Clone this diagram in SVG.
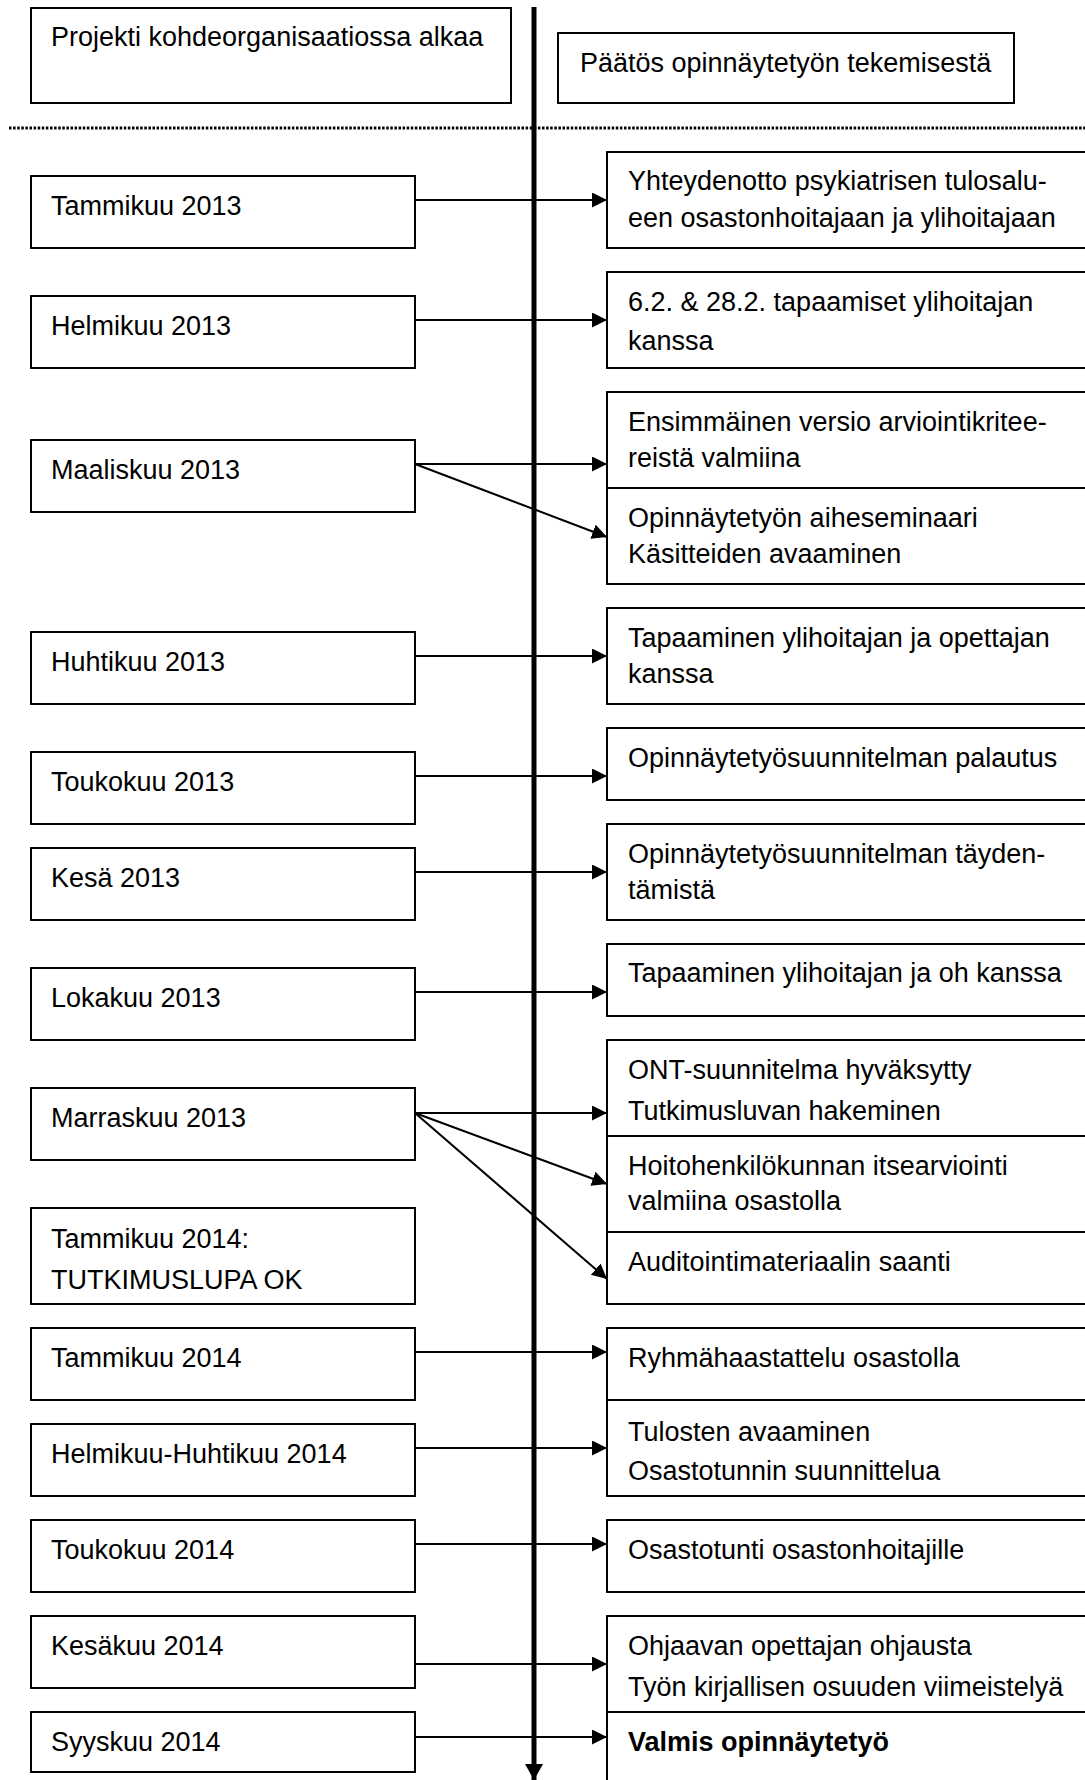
<svg xmlns="http://www.w3.org/2000/svg" width="1085" height="1780" viewBox="0 0 1085 1780">
<style>
.box{fill:#fff;stroke:#000;stroke-width:2}
.t{font-family:"Liberation Sans",Arial,sans-serif;font-size:27px;fill:#000}
.b{font-weight:bold}
.c{stroke:#000;stroke-width:2;fill:none}
</style>
<defs>
<marker id="ah" markerUnits="userSpaceOnUse" markerWidth="17" markerHeight="17" refX="15" refY="7.5" orient="auto">
<path d="M0,0 L15,7.5 L0,15 z" fill="#000"/>
</marker>
<marker id="ahBig" markerUnits="userSpaceOnUse" markerWidth="20" markerHeight="20" refX="16" refY="9" orient="auto">
<path d="M0,0 L16,9 L0,18 z" fill="#000"/>
</marker>
</defs>
<rect width="1085" height="1780" fill="#fff"/>

<!-- header nodes -->
<g id="n-projekti"><rect class="box" x="31" y="8" width="480" height="95"/><text class="t" x="51" y="46">Projekti kohdeorganisaatiossa alkaa</text></g>
<g id="n-paatos"><rect class="box" x="558" y="33" width="456" height="70"/><text class="t" x="580" y="72">Päätös opinnäytetyön tekemisestä</text></g>

<!-- left nodes -->
<g id="l1"><rect class="box" x="31" y="176" width="384" height="72"/><text class="t" x="51" y="215">Tammikuu 2013</text></g>
<g id="l2"><rect class="box" x="31" y="296" width="384" height="72"/><text class="t" x="51" y="335">Helmikuu 2013</text></g>
<g id="l3"><rect class="box" x="31" y="440" width="384" height="72"/><text class="t" x="51" y="479">Maaliskuu 2013</text></g>
<g id="l4"><rect class="box" x="31" y="632" width="384" height="72"/><text class="t" x="51" y="671">Huhtikuu 2013</text></g>
<g id="l5"><rect class="box" x="31" y="752" width="384" height="72"/><text class="t" x="51" y="791">Toukokuu 2013</text></g>
<g id="l6"><rect class="box" x="31" y="848" width="384" height="72"/><text class="t" x="51" y="887">Kesä 2013</text></g>
<g id="l7"><rect class="box" x="31" y="968" width="384" height="72"/><text class="t" x="51" y="1007">Lokakuu 2013</text></g>
<g id="l8"><rect class="box" x="31" y="1088" width="384" height="72"/><text class="t" x="51" y="1127">Marraskuu 2013</text></g>
<g id="l9"><rect class="box" x="31" y="1208" width="384" height="96"/><text class="t" x="51" y="1248">Tammikuu 2014:</text><text class="t" x="51" y="1289">TUTKIMUSLUPA OK</text></g>
<g id="l10"><rect class="box" x="31" y="1328" width="384" height="72"/><text class="t" x="51" y="1367">Tammikuu 2014</text></g>
<g id="l11"><rect class="box" x="31" y="1424" width="384" height="72"/><text class="t" x="51" y="1463">Helmikuu-Huhtikuu 2014</text></g>
<g id="l12"><rect class="box" x="31" y="1520" width="384" height="72"/><text class="t" x="51" y="1559">Toukokuu 2014</text></g>
<g id="l13"><rect class="box" x="31" y="1616" width="384" height="72"/><text class="t" x="51" y="1655">Kesäkuu 2014</text></g>
<g id="l14"><rect class="box" x="31" y="1712" width="384" height="60"/><text class="t" x="51" y="1751">Syyskuu 2014</text></g>

<!-- right nodes -->
<g id="r1"><rect class="box" x="607" y="152" width="490" height="96"/><text class="t" x="628" y="190">Yhteydenotto psykiatrisen tulosalu-</text><text class="t" x="628" y="227">een osastonhoitajaan ja ylihoitajaan</text></g>
<g id="r2"><rect class="box" x="607" y="272" width="490" height="96"/><text class="t" x="628" y="311">6.2. &amp; 28.2. tapaamiset ylihoitajan</text><text class="t" x="628" y="350">kanssa</text></g>
<g id="r3"><rect class="box" x="607" y="392" width="490" height="96"/><text class="t" x="628" y="431">Ensimmäinen versio arviointikritee-</text><text class="t" x="628" y="467">reistä valmiina</text></g>
<g id="r4"><rect class="box" x="607" y="488" width="490" height="96"/><text class="t" x="628" y="527">Opinnäytetyön aiheseminaari</text><text class="t" x="628" y="563">Käsitteiden avaaminen</text></g>
<g id="r5"><rect class="box" x="607" y="608" width="490" height="96"/><text class="t" x="628" y="647">Tapaaminen ylihoitajan ja opettajan</text><text class="t" x="628" y="683">kanssa</text></g>
<g id="r6"><rect class="box" x="607" y="728" width="490" height="72"/><text class="t" x="628" y="767">Opinnäytetyösuunnitelman palautus</text></g>
<g id="r7"><rect class="box" x="607" y="824" width="490" height="96"/><text class="t" x="628" y="863">Opinnäytetyösuunnitelman täyden-</text><text class="t" x="628" y="899">tämistä</text></g>
<g id="r8"><rect class="box" x="607" y="944" width="490" height="72"/><text class="t" x="628" y="982">Tapaaminen ylihoitajan ja oh kanssa</text></g>
<g id="r9"><rect class="box" x="607" y="1040" width="490" height="96"/><text class="t" x="628" y="1079">ONT-suunnitelma hyväksytty</text><text class="t" x="628" y="1120">Tutkimusluvan hakeminen</text></g>
<g id="r10"><rect class="box" x="607" y="1136" width="490" height="96"/><text class="t" x="628" y="1175">Hoitohenkilökunnan itsearviointi</text><text class="t" x="628" y="1210">valmiina osastolla</text></g>
<g id="r11"><rect class="box" x="607" y="1232" width="490" height="72"/><text class="t" x="628" y="1271">Auditointimateriaalin saanti</text></g>
<g id="r12"><rect class="box" x="607" y="1328" width="490" height="72"/><text class="t" x="628" y="1367">Ryhmähaastattelu osastolla</text></g>
<g id="r13"><rect class="box" x="607" y="1400" width="490" height="96"/><text class="t" x="628" y="1441">Tulosten avaaminen</text><text class="t" x="628" y="1480">Osastotunnin suunnittelua</text></g>
<g id="r14"><rect class="box" x="607" y="1520" width="490" height="72"/><text class="t" x="628" y="1559">Osastotunti osastonhoitajille</text></g>
<g id="r15"><rect class="box" x="607" y="1616" width="490" height="96"/><text class="t" x="628" y="1655">Ohjaavan opettajan ohjausta</text><text class="t" x="628" y="1696">Työn kirjallisen osuuden viimeistelyä</text></g>
<g id="r16"><rect class="box" x="607" y="1712" width="490" height="90"/><text class="t b" x="628" y="1751">Valmis opinnäytetyö</text></g>

<!-- connectors -->
<g id="connectors">
<line x1="9" y1="128" x2="1085" y2="128" stroke="#000" stroke-width="3" stroke-dasharray="2.5 1.6"/>
<line x1="534" y1="7" x2="534" y2="1780" stroke="#000" stroke-width="5" marker-end="url(#ahBig)"/>
<line class="c" x1="415" y1="200" x2="607" y2="200" marker-end="url(#ah)"/>
<line class="c" x1="415" y1="320" x2="607" y2="320" marker-end="url(#ah)"/>
<line class="c" x1="415" y1="464" x2="607" y2="464" marker-end="url(#ah)"/>
<line class="c" x1="415" y1="464" x2="607" y2="537" marker-end="url(#ah)"/>
<line class="c" x1="415" y1="656" x2="607" y2="656" marker-end="url(#ah)"/>
<line class="c" x1="415" y1="776" x2="607" y2="776" marker-end="url(#ah)"/>
<line class="c" x1="415" y1="872" x2="607" y2="872" marker-end="url(#ah)"/>
<line class="c" x1="415" y1="992" x2="607" y2="992" marker-end="url(#ah)"/>
<line class="c" x1="415" y1="1113" x2="607" y2="1113" marker-end="url(#ah)"/>
<line class="c" x1="415" y1="1113" x2="607" y2="1184" marker-end="url(#ah)"/>
<line class="c" x1="415" y1="1113" x2="607" y2="1279" marker-end="url(#ah)"/>
<line class="c" x1="415" y1="1352" x2="607" y2="1352" marker-end="url(#ah)"/>
<line class="c" x1="415" y1="1448" x2="607" y2="1448" marker-end="url(#ah)"/>
<line class="c" x1="415" y1="1544" x2="607" y2="1544" marker-end="url(#ah)"/>
<line class="c" x1="415" y1="1664" x2="607" y2="1664" marker-end="url(#ah)"/>
<line class="c" x1="415" y1="1737" x2="607" y2="1737" marker-end="url(#ah)"/>
</g>
</svg>
